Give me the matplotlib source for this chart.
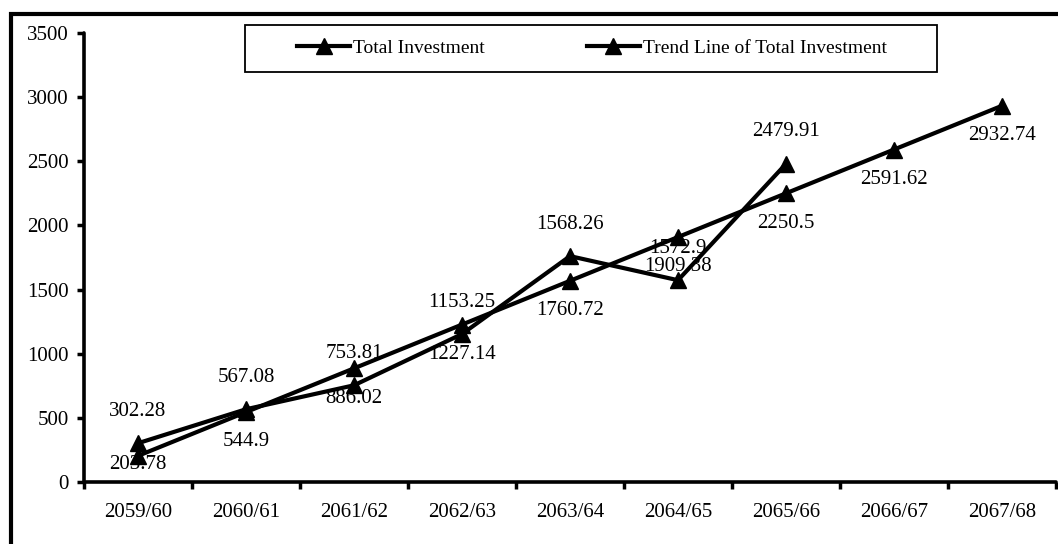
import matplotlib
matplotlib.use('Agg')
import matplotlib.pyplot as plt
from matplotlib.patches import Rectangle
from matplotlib.lines import Line2D

plt.rcParams['font.family'] = ['Liberation Serif', 'DejaVu Serif']

years = ['2059/60', '2060/61', '2061/62', '2062/63', '2063/64',
         '2064/65', '2065/66', '2066/67', '2067/68']
total_investment = [302.28, 567.08, 753.81, 1153.25, 1760.72, 1572.9, 2479.91]
trend_line = [203.78, 544.9, 886.02, 1227.14, 1568.26, 1909.38, 2250.5,
              2591.62, 2932.74]
# data labels as printed in the source (two of them are swapped there)
total_labels = ['302.28', '567.08', '753.81', '1153.25', '1568.26', '1572.9', '2479.91']
trend_labels = ['203.78', '544.9', '886.02', '1227.14', '1760.72', '1909.38', '2250.5',
                '2591.62', '2932.74']
yticks = [0, 500, 1000, 1500, 2000, 2500, 3000, 3500]

W, H = 1058, 544
fig = plt.figure(figsize=(W / 100, H / 100), dpi=100)
ax = fig.add_axes([84 / W, 1 - 482 / H, (1056 - 84) / W, (482 - 33) / H])

fs = 15
lw = 3
ms = 12
pt_per_unit = (482 - 33) / 3500 * 0.72  # points per data unit on y

x_tot = list(range(len(total_investment)))
x_tr = list(range(len(trend_line)))
ax.plot(x_tot, total_investment, color='black', lw=lw, marker='^', ms=ms,
        clip_on=False, zorder=3)
ax.plot(x_tr, trend_line, color='black', lw=lw, marker='^', ms=ms,
        clip_on=False, zorder=3)

for x, v, s in zip(x_tot, total_investment, total_labels):
    ax.annotate(s, (x, v), xytext=(0, 23), textcoords='offset points',
                ha='center', va='center', fontsize=fs)
for x, v, s in zip(x_tr, trend_line, trend_labels):
    # labels below the point, kept inside the plot area
    dy = max(-21.5, 12.5 - v * pt_per_unit)
    ax.annotate(s, (x, v), xytext=(0, dy), textcoords='offset points',
                ha='center', va='center', fontsize=fs)

ax.set_xlim(-0.5, len(years) - 0.5)
ax.set_ylim(0, 3500)
ax.set_yticks(yticks)
ax.set_yticklabels([str(t) for t in yticks], fontsize=fs)
ax.set_xticks(range(len(years)))
ax.set_xticklabels(years, fontsize=fs)
ax.set_xticks([i - 0.5 for i in range(len(years) + 1)], minor=True)
ax.tick_params(axis='x', which='major', length=0, pad=15)
ax.tick_params(axis='x', which='minor', length=5, width=2.5, direction='out')
ax.tick_params(axis='y', length=5, width=2.5, pad=6)
for side in ['top', 'right']:
    ax.spines[side].set_visible(False)
for side in ['left', 'bottom']:
    ax.spines[side].set_linewidth(2.6)
    ax.spines[side].set_capstyle('round')

# legend box
fig.patches.append(Rectangle((245 / W, 1 - 72 / H), (937 - 245) / W, 47 / H,
                             transform=fig.transFigure, fill=False,
                             edgecolor='black', lw=1.3))
handles = [Line2D([], [], color='black', lw=lw, marker='^', ms=ms),
           Line2D([], [], color='black', lw=lw, marker='^', ms=ms)]
fig.legend(handles, ['Total Investment', 'Trend Line of Total Investment'],
           loc='center', bbox_to_anchor=(592 / W, 1 - 48 / H), ncol=2,
           frameon=False, fontsize=14, handlelength=2.73, handletextpad=0.15,
           columnspacing=5.25)

# outer frame of the figure
fig.patches.append(Rectangle((11 / W, -0.1), 1.2, 1.1 - 13.5 / H,
                             transform=fig.transFigure, fill=False,
                             edgecolor='black', lw=3, clip_on=False))

fig.savefig('out.png', dpi=100)
